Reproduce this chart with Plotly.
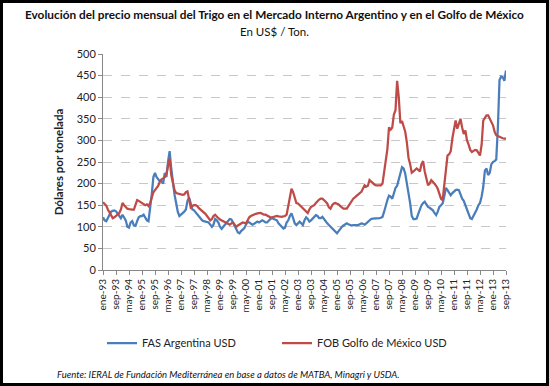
import plotly.graph_objects as go

# Monthly prices, ene-93 .. sep-13 (USD/t)
fas_argentina = [
    122, 115, 113, 120, 128, 135, 137, 138, 136, 130, 125, 120,   # 1993
    128, 120, 115, 100, 98, 110, 113, 103, 102, 113, 122, 125,     # 1994
    125, 128, 122, 115, 113, 140, 175, 215, 225, 215, 210, 205,    # 1995
    205, 200, 225, 215, 250, 275, 235, 200, 175, 155, 135, 125,    # 1996
    128, 130, 135, 140, 160, 168, 150, 140, 138, 133, 128, 123,    # 1997
    118, 115, 113, 112, 112, 110, 105, 100, 105, 118, 115, 110,    # 1998
    100, 95, 100, 105, 110, 115, 118, 117, 110, 105, 95, 87,       # 1999
    85, 90, 93, 97, 105, 112, 110, 107, 105, 107, 110, 112,        # 2000
    110, 112, 115, 113, 110, 110, 115, 118, 120, 118, 117, 115,    # 2001
    108, 103, 100, 96, 98, 110, 115, 125, 131, 120, 108, 104,      # 2002
    108, 112, 108, 104, 115, 122, 118, 112, 115, 119, 123, 127,    # 2003
    125, 120, 120, 123, 118, 112, 108, 104, 100, 96, 92, 88,       # 2004
    85, 90, 96, 100, 103, 105, 108, 106, 104, 103, 104, 104,       # 2005
    105, 104, 106, 108, 107, 105, 108, 112, 115, 118, 119, 119,    # 2006
    119, 119, 120, 121, 123, 135, 150, 162, 172, 170, 165, 178,    # 2007
    190, 195, 210, 230, 238, 235, 223, 200, 180, 155, 125, 118,    # 2008
    118, 119, 130, 142, 150, 155, 158, 152, 146, 144, 142, 138,    # 2009
    132, 127, 135, 146, 150, 154, 170, 190, 185, 178, 173, 178,    # 2010
    182, 185, 186, 185, 175, 165, 160, 148, 140, 130, 120, 118,    # 2011
    125, 131, 140, 150, 155, 170, 192, 230, 235, 220, 225, 245,    # 2012
    250, 252, 256, 330, 440, 448, 446, 438, 462,                   # 2013
]

fob_golfo = [
    157, 153, 149, 140, 133, 126, 120, 122, 125, 127, 132, 140,    # 1993
    155, 150, 145, 142, 141, 140, 140, 140, 150, 162, 160, 157,    # 1994
    155, 153, 150, 152, 148, 155, 168, 180, 185, 190, 195, 205,    # 1995
    210, 212, 215, 222, 240, 258, 220, 198, 185, 178, 177, 176,    # 1996
    175, 174, 175, 180, 182, 165, 145, 148, 150, 150, 148, 143,    # 1997
    140, 137, 135, 130, 125, 120, 115, 118, 125, 128, 123, 120,    # 1998
    117, 115, 112, 110, 108, 106, 105, 108, 110, 105, 100, 103,    # 1999
    105, 108, 110, 109, 108, 115, 122, 125, 127, 128, 130, 131,    # 2000
    132, 132, 130, 128, 128, 126, 124, 122, 122, 123, 124, 125,    # 2001
    124, 123, 123, 124, 125, 128, 150, 175, 188, 180, 165, 155,    # 2002
    154, 150, 146, 142, 138, 135, 132, 140, 146, 148, 150, 155,    # 2003
    160, 163, 165, 165, 162, 158, 154, 145, 142, 150, 154, 155,    # 2004
    154, 152, 148, 144, 142, 142, 142, 148, 154, 160, 165, 168,    # 2005
    172, 175, 178, 181, 188, 196, 193, 195, 208, 204, 200, 198,    # 2006
    196, 196, 196, 196, 200, 225, 255, 280, 330, 325, 330, 360,    # 2007
    370, 438, 400, 340, 345, 330, 320, 295, 260, 245, 225, 228,    # 2008
    231, 235, 232, 228, 245, 252, 228, 210, 196, 200, 208, 204,    # 2009
    200, 195, 188, 178, 165, 162, 200, 235, 265, 268, 275, 305,    # 2010
    330, 346, 327, 340, 350, 330, 315, 323, 300, 290, 278, 273,    # 2011
    275, 278, 277, 270, 265, 290, 346, 352, 358, 358, 350, 342,    # 2012
    335, 320, 312, 310, 308, 306, 305, 304, 304,                   # 2013
]

month_abbr = ["ene", "feb", "mar", "abr", "may", "jun", "jul", "ago", "sep", "oct", "nov", "dic"]
months = [f"{month_abbr[i % 12]}-{(93 + i // 12) % 100:02d}" for i in range(len(fas_argentina))]
tick_step = 8
tick_idx = list(range(0, len(months), tick_step))
tick_labels = [months[i] for i in tick_idx]

x = list(range(len(months)))

fig = go.Figure()
fig.add_trace(go.Scatter(x=x, y=fas_argentina, mode="lines", name="FAS Argentina USD",
                         line=dict(color="#4a7ebb", width=2.25), customdata=months,
                         hovertemplate="%{customdata}: %{y}<extra></extra>"))
fig.add_trace(go.Scatter(x=x, y=fob_golfo, mode="lines", name="FOB Golfo de México USD",
                         line=dict(color="#be4b48", width=2.25), customdata=months,
                         hovertemplate="%{customdata}: %{y}<extra></extra>"))

W, H = 549, 386
L, R, T, B = 103, 43, 54, 116
pw, ph = W - L - R, H - T - B

def px_x(p):
    return (p - L) / pw

def px_y(p):
    return (H - B - p) / ph

fig.update_layout(
    width=W, height=H,
    margin=dict(l=L, r=R, t=T, b=B),
    paper_bgcolor="white", plot_bgcolor="white",
    font=dict(family="Lato, Arial, sans-serif", color="#000000", size=11),
    showlegend=True,
    legend=dict(orientation="h", x=px_x(102), y=px_y(343), xanchor="left", yanchor="middle",
                font=dict(size=11, color="#222222"), entrywidth=130, tracegroupgap=0,
                bgcolor="rgba(0,0,0,0)"),
    xaxis=dict(range=[0, len(months) - 1], tickmode="array", tickvals=tick_idx, ticktext=tick_labels,
               tickangle=-90, tickfont=dict(size=10, color="#222222", family="Lato, Arial, sans-serif"),
               showgrid=False, zeroline=False, showline=True, linecolor="#888888", linewidth=1,
               ticks="outside", ticklen=4, tickcolor="#888888"),
    yaxis=dict(range=[0, 500], tickvals=list(range(0, 501, 50)),
               tickfont=dict(size=11, color="#222222", family="Lato, Arial, sans-serif"),
               showgrid=True, gridcolor="#c8c8c8", griddash="dash", gridwidth=1,
               zeroline=False, showline=True, linecolor="#888888", linewidth=1,
               ticks="outside", ticklen=4, tickcolor="#888888",
               title=dict(text="<b>Dólares por tonelada</b>", font=dict(size=11.5, color="#222222"),
                          standoff=10)),
    annotations=[
        dict(text="<b>Evolución del precio mensual del Trigo en el Mercado Interno Argentino y en el Golfo de México</b>",
             xref="paper", yref="paper", x=px_x(274), y=px_y(14), xanchor="center", yanchor="middle",
             showarrow=False, font=dict(size=11.8, color="#111111", family="Lato, Arial, sans-serif")),
        dict(text="En US$ / Ton.", xref="paper", yref="paper", x=px_x(274), y=px_y(31),
             xanchor="center", yanchor="middle", showarrow=False,
             font=dict(size=11.5, color="#111111", family="Lato, Arial, sans-serif")),
        dict(text="<i>Fuente: IERAL de Fundación Mediterránea en base a datos de MATBA, Minagri y USDA.</i>",
             xref="paper", yref="paper", x=px_x(55), y=px_y(374), xanchor="left", yanchor="middle",
             showarrow=False, font=dict(size=9.5, color="#111111", family="Lato, Arial, sans-serif")),
    ],
    shapes=[
        dict(type="rect", xref="paper", yref="paper", x0=px_x(0), x1=px_x(W), y0=px_y(0), y1=px_y(H),
             line=dict(color="black", width=6), fillcolor="rgba(0,0,0,0)", layer="above"),
    ],
)

fig.write_html("out.html", config={"displayModeBar": False},
               post_script="document.body.style.margin='0';document.body.style.padding='0';")
